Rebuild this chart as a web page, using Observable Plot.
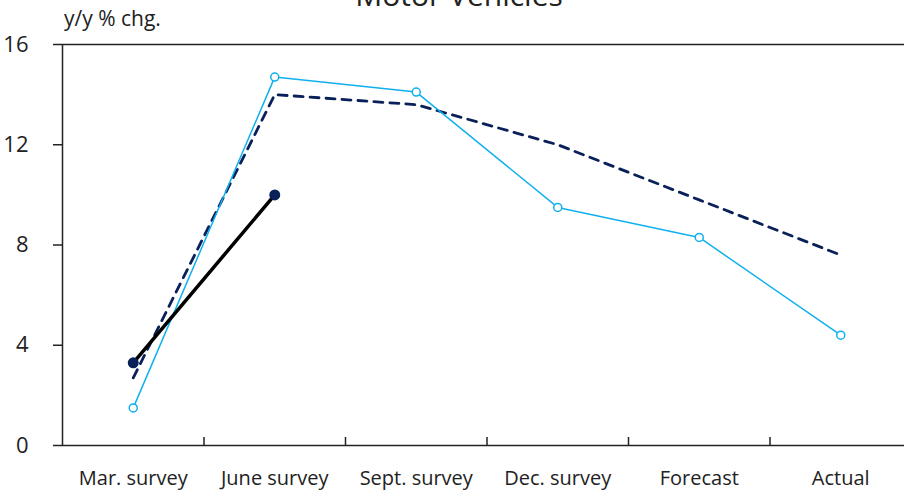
<!DOCTYPE html>
<html>
<head>
<meta charset="utf-8">
<script src="https://cdn.jsdelivr.net/npm/d3@7"></script>
<script src="https://cdn.jsdelivr.net/npm/@observablehq/plot@0.6"></script>
<style>
  html, body { margin: 0; padding: 0; background: #fff; overflow: hidden; }
  #wrap { position: relative; width: 904px; height: 493px; overflow: hidden; font-family: "Open Sans", sans-serif; }
  #title { position: absolute; left: 0; width: 918px; top: -20px; text-align: center; font-size: 30px; line-height: 1; color: #222; }
  #ylabel { position: absolute; left: 64px; top: 8px; font-size: 21px; line-height: 1; color: #222; }
  #chart { position: absolute; left: 0; top: 0; width: 911px; }
  #chart svg { max-width: none !important; width: 911px; height: 493px; }
</style>
</head>
<body>
<div id="wrap">
  <div id="chart"></div>
  <div id="title">Motor Vehicles</div>
  <div id="ylabel">y/y % chg.</div>
</div>
<script>
const categories = ["Mar. survey", "June survey", "Sept. survey", "Dec. survey", "Forecast", "Actual"];
const yTicks = [0, 4, 8, 12, 16];
const cyanSeries = [1.5, 14.7, 14.1, 9.5, 8.3, 4.4];
const dashedSeries = [2.7, 14.0, 13.6, 12.0, 9.8, 7.6];
const blackSeries = [3.3, 10.0];

const idx = categories.map((c, i) => i);
const separators = idx.slice(0, -1).map(i => i + 0.5);
const xDomain = [-0.5, categories.length - 0.5];

const cyan = cyanSeries.map((v, i) => ({i, v}));
const dashed = dashedSeries.map((v, i) => ({i, v}));
const black = blackSeries.map((v, i) => ({i, v}));

const chart = Plot.plot({
  width: 911,
  height: 493,
  marginLeft: 62,
  marginRight: 0,
  marginTop: 44,
  marginBottom: 48,
  style: {fontFamily: "Open Sans, sans-serif", color: "#222", background: "transparent", maxWidth: "none"},
  x: {domain: xDomain},
  y: {domain: [0, 16]},
  marks: [
    Plot.frame({stroke: "#222", strokeWidth: 1.5}),
    Plot.axisY({ticks: yTicks, tickSize: 9, tickPadding: 25, fontSize: 22, label: null, stroke: "#222", strokeWidth: 1.5}),
    Plot.axisX({ticks: idx, tickSize: 0, tickPadding: 25, fontSize: 20, label: null, tickFormat: i => categories[i]}),
    Plot.axisX({ticks: separators, tickSize: -8, tickFormat: () => "", label: null, stroke: "#222", strokeWidth: 1.5}),
    Plot.line(dashed, {x: "i", y: "v", stroke: "#0a2058", strokeWidth: 2.8, strokeDasharray: "9,7"}),
    Plot.line(cyan, {x: "i", y: "v", stroke: "#10b0ee", strokeWidth: 1.5}),
    Plot.dot(cyan, {x: "i", y: "v", r: 4, fill: "white", stroke: "#10b0ee", strokeWidth: 1.5}),
    Plot.line(black, {x: "i", y: "v", stroke: "#000", strokeWidth: 3.5}),
    Plot.dot(black, {x: "i", y: "v", r: 5.5, fill: "#0a2058"})
  ]
});
document.getElementById("chart").appendChild(chart);
</script>
</body>
</html>
